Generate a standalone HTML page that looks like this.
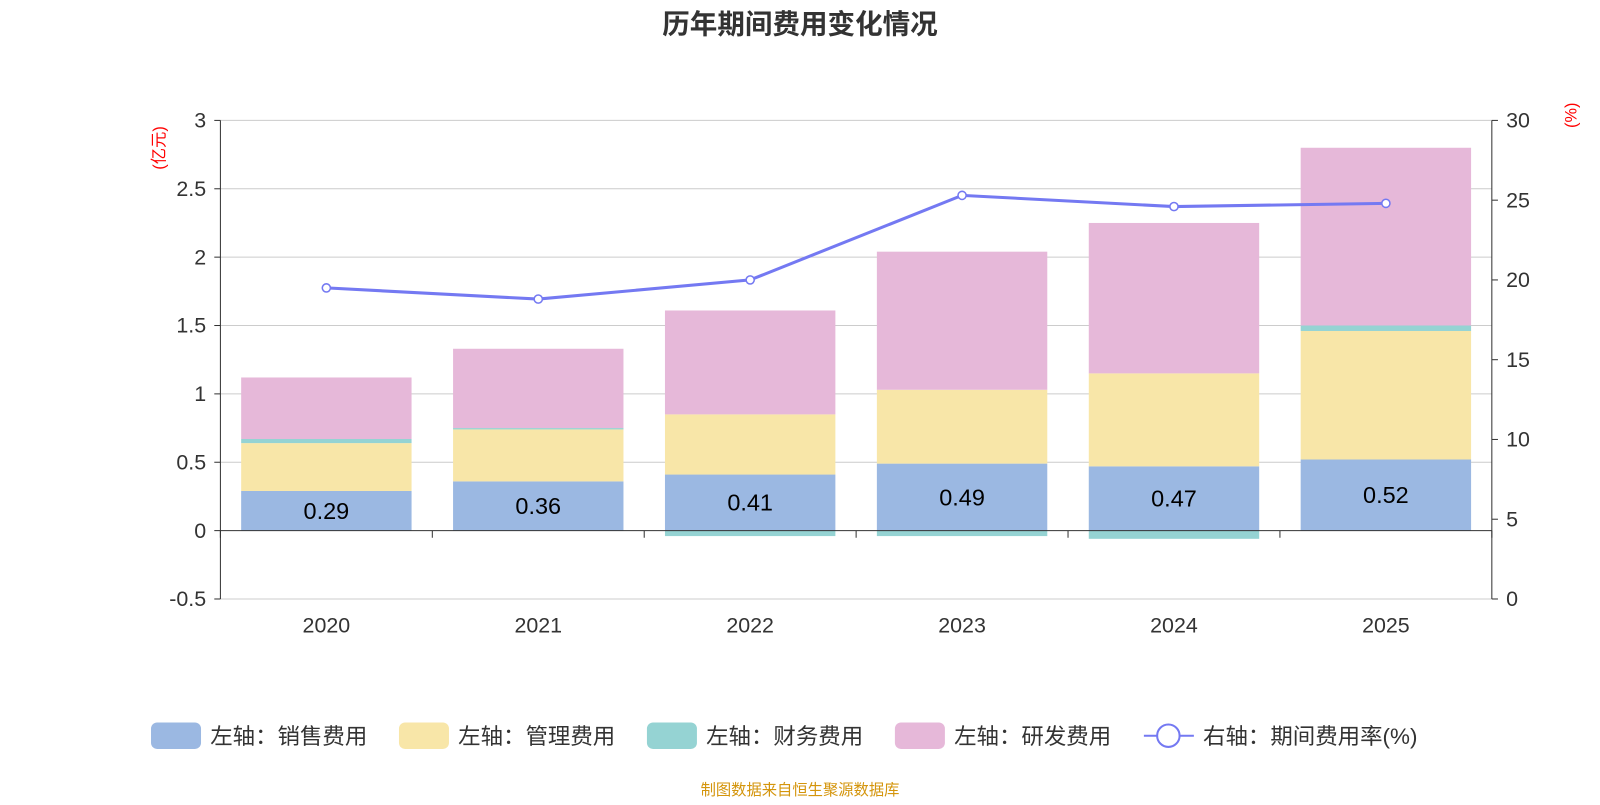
<!DOCTYPE html>
<html><head><meta charset="utf-8">
<style>
html,body{margin:0;padding:0;background:#fff;}
body{width:1600px;height:800px;overflow:hidden;font-family:"Liberation Sans","Noto Sans CJK SC",sans-serif;}
</style></head>
<body>
<svg id="chart" width="1600" height="800" viewBox="0 0 1568 784" xmlns="http://www.w3.org/2000/svg" font-family="Liberation Sans, Noto Sans CJK SC, sans-serif">
<text x="784" y="33" text-anchor="middle" font-size="27" font-weight="bold" fill="#333">历年期间费用变化情况</text>
<text transform="translate(161,145) rotate(-90)" text-anchor="middle" font-size="16" fill="#f00">(亿元)</text>
<text transform="translate(1545,113) rotate(-90)" text-anchor="middle" font-size="16" fill="#f00">(%)</text>
<g id="grid"></g><g id="bars"></g><g id="axes"></g><g id="line"></g>
<g id="legend"></g>
<text x="784" y="779" text-anchor="middle" font-size="15" fill="#d4950c">制图数据来自恒生聚源数据库</text>
</svg>
<script>
const categories=["2020","2021","2022","2023","2024","2025"];
const sales=[0.29,0.36,0.41,0.49,0.47,0.52];
const mgmt=[0.35,0.38,0.44,0.54,0.68,0.94];
const fin=[0.03,0.01,-0.04,-0.04,-0.06,0.04];
const rd=[0.45,0.58,0.76,1.01,1.10,1.30];
const rate=[19.5,18.8,20.0,25.3,24.6,24.8];
const leftTicks=[-0.5,0,0.5,1,1.5,2,2.5,3];
const rightTicks=[0,5,10,15,20,25,30];
const NS="http://www.w3.org/2000/svg";
const X0=216,X1=1462,bw=(X1-X0)/categories.length;
const yL=v=>520-v*134;
const yR=v=>587-v*(469/30);
const xC=i=>X0+bw*(i+0.5);
function mk(t,a,p){const e=document.createElementNS(NS,t);for(const k in a)e.setAttribute(k,a[k]);(p||document.getElementById('chart')).appendChild(e);return e;}
const grid=document.getElementById('grid'),axes=document.getElementById('axes'),bars=document.getElementById('bars'),line=document.getElementById('line'),leg=document.getElementById('legend');
leftTicks.forEach(v=>{
 const g=mk('line',{x1:X0,x2:X1,y1:yL(v),y2:yL(v),stroke:v===0?'#333':'#ccc','stroke-width':1},v===0?axes:grid);
 
 
 mk('line',{x1:X0-6,x2:X0,y1:yL(v),y2:yL(v),stroke:'#333'},axes);
 const t=mk('text',{x:X0-14,y:yL(v)+7,'text-anchor':'end','font-size':21,fill:'#333'},axes);t.textContent=v;
 
 
});
rightTicks.forEach(v=>{
 mk('line',{x1:X1,x2:X1+6,y1:yR(v),y2:yR(v),stroke:'#333'},axes);
 const t=mk('text',{x:X1+14,y:yR(v)+7,'font-size':21,fill:'#333'},axes);t.textContent=v;
 
 
});
mk('line',{x1:X0,x2:X0,y1:118,y2:587,stroke:'#333'},axes);
mk('line',{x1:X1,x2:X1,y1:118,y2:587,stroke:'#333'},axes);
for(let i=0;i<=categories.length;i++)mk('line',{x1:X0+bw*i,x2:X0+bw*i,y1:520,y2:527,stroke:'#333'},axes);
categories.forEach((c,i)=>{const t=mk('text',{x:xC(i),y:620,'text-anchor':'middle','font-size':21,fill:'#333'},axes);t.textContent=c;
 
 });
const series=[[sales,'#9bb8e2','sales'],[mgmt,'#f8e6a8','mgmt'],[fin,'#95d3d3','finance'],[rd,'#e6b8d9','rd']];
const W=167;
categories.forEach((c,i)=>{
 let pos=0,neg=0;
 series.forEach(([arr,col,nm])=>{
  const v=arr[i];let y0,y1;
  if(v>=0){y0=pos;y1=pos+v;pos=y1;}else{y0=neg;y1=neg+v;neg=y1;}
  const r=mk('rect',{x:xC(i)-W/2,y:Math.min(yL(y0),yL(y1)),width:W,height:Math.abs(yL(y1)-yL(y0)),fill:col},bars);
  
  
 });
 const t=mk('text',{x:xC(i),y:yL(sales[i]/2)+8,'text-anchor':'middle','font-size':23,fill:'#000'},bars);t.textContent=sales[i].toFixed(2);
 
 
});
const pl=mk('polyline',{points:rate.map((v,i)=>xC(i)+','+yR(v)).join(' '),fill:'none',stroke:'#7479f2','stroke-width':3},line);


rate.forEach((v,i)=>{const c=mk('circle',{cx:xC(i),cy:yR(v),r:4,fill:'#fff',stroke:'#7479f2','stroke-width':1.5},line);
 
 });
const legItems=[['左轴：销售费用','#9bb8e2',148],['左轴：管理费用','#f8e6a8',391],['左轴：财务费用','#95d3d3',634],['左轴：研发费用','#e6b8d9',877]];
legItems.forEach(([l,col,x])=>{
 const g=mk('g',{},leg);
 
 
 mk('rect',{x:x,y:708,width:49,height:26,rx:6,fill:col},g);
 const t=mk('text',{x:x+58,y:729,'font-size':22,fill:'#333'},g);t.textContent=l;
});
const g=mk('g',{},leg);


mk('line',{x1:1121,x2:1170,y1:721,y2:721,stroke:'#7479f2','stroke-width':2},g);
mk('circle',{cx:1145,cy:721,r:11,fill:'#fff',stroke:'#7479f2','stroke-width':2},g);
const t=mk('text',{x:1179,y:729,'font-size':22,fill:'#333'},g);t.textContent='右轴：期间费用率(%)';
</script>
</body></html>
